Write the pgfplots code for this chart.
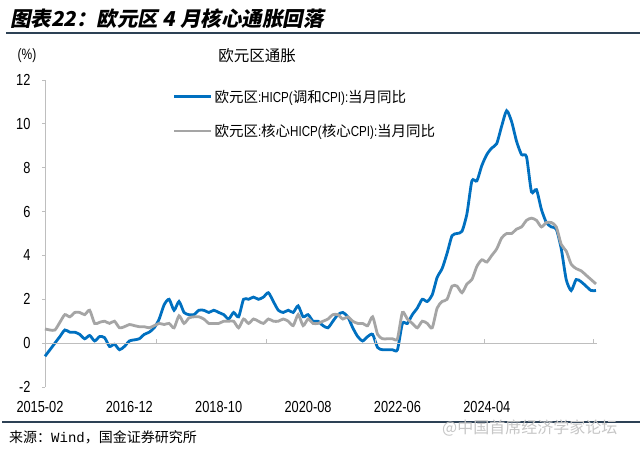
\documentclass[border=0pt]{standalone}
\usepackage{pgfplots}
\pgfplotsset{compat=1.18}
\usepackage{pgfplotstable}
\usepackage{fontspec}
\setmainfont{Liberation Sans}
\newfontfamily\cjk{Noto Sans CJK SC}
\newfontfamily\titlefont[FakeSlant=0.2]{Noto Sans CJK SC}
\newfontfamily\ticksf[FakeStretch=0.8]{Liberation Sans}
\newfontfamily\monof{Liberation Mono}
\definecolor{hblue}{RGB}{0,112,192}
\definecolor{hgray}{RGB}{165,165,165}
\definecolor{axgray}{RGB}{190,190,190}
\definecolor{rulec}{RGB}{45,65,85}
\pgfplotstableread{
i b g
0 -0.6 0.65
1 -0.3 0.6
2 0.0 0.6
3 0.3 0.95
4 0.6 1.3
5 0.5 1.2
6 0.5 1.4
7 0.4 1.4
8 0.2 1.3
9 0.35 1.5
10 0.1 0.9
11 0.3 0.95
12 0.25 1.0
13 -0.15 0.9
14 -0.05 1.0
15 -0.3 0.7
16 -0.15 0.75
17 0.1 0.85
18 0.15 0.8
19 0.2 0.75
20 0.4 0.75
21 0.5 0.7
22 0.7 0.8
23 1.1 0.9
24 1.75 0.85
25 2.0 0.9
26 1.5 0.7
27 1.9 1.25
28 1.4 0.9
29 1.3 1.15
30 1.3 1.2
31 1.5 1.2
32 1.5 1.1
33 1.4 0.9
34 1.5 0.9
35 1.4 0.9
36 1.3 1.0
37 1.1 1.0
38 1.4 1.0
39 1.2 0.7
40 2.0 1.1
41 2.0 0.9
42 2.1 1.1
43 2.0 1.0
44 2.1 0.9
45 2.3 1.1
46 1.9 1.0
47 1.5 1.0
48 1.4 1.1
49 1.5 1.0
50 1.4 0.8
51 1.7 1.3
52 1.2 0.8
53 1.3 1.1
54 1.0 0.9
55 1.0 0.9
56 0.8 1.0
57 0.7 1.1
58 1.0 1.3
59 1.3 1.3
60 1.4 1.1
61 1.2 1.2
62 0.7 1.0
63 0.3 0.9
64 0.1 0.9
65 0.3 0.8
66 0.4 1.2
67 -0.2 0.4
68 -0.3 0.2
69 -0.3 0.2
70 -0.3 0.2
71 -0.3 0.2
72 0.9 1.4
73 0.9 1.1
74 1.3 0.9
75 1.6 0.7
76 2.0 1.0
77 1.9 0.9
78 2.2 0.7
79 3.0 1.6
80 3.4 1.9
81 4.1 2.0
82 4.9 2.6
83 5.0 2.6
84 5.1 2.3
85 5.9 2.7
86 7.4 2.9
87 7.4 3.5
88 8.1 3.8
89 8.6 3.7
90 8.9 4.0
91 9.1 4.3
92 9.9 4.8
93 10.6 5.0
94 10.1 5.0
95 9.2 5.2
96 8.6 5.3
97 8.5 5.6
98 6.9 5.7
99 7.0 5.6
100 6.1 5.3
101 5.5 5.5
102 5.3 5.5
103 5.2 5.3
104 4.3 4.5
105 2.9 4.2
106 2.4 3.6
107 2.9 3.4
108 2.8 3.3
109 2.6 3.1
110 2.4 2.9
111 2.4 2.7
}\datatable
\begin{document}
\begin{tikzpicture}
\useasboundingbox (0pt,0pt) rectangle (640pt,-450pt);
\fill[white] (0pt,0pt) rectangle (640pt,-450pt);
% title and rules
\node[anchor=west,inner sep=0] at (10pt,-19pt) {\titlefont\bfseries\fontsize{20.5}{20.5}\selectfont 图表22：欧元区 4 月核心通胀回落};
\draw[rulec,line width=1.1pt] (6pt,-33pt) -- (640pt,-33pt);
\draw[rulec,line width=1.1pt] (2pt,-422pt) -- (640pt,-422pt);
\node[anchor=west,inner sep=0] at (9pt,-437pt) {\cjk\fontsize{14}{14}\selectfont 来源：{\monof Wind}，国金证券研究所};
\node[anchor=west,inner sep=0,text=gray!45] at (442pt,-428pt) {\cjk\fontsize{16}{16}\selectfont @中国首席经济学家论坛};
\node[inner sep=0] at (27pt,-56pt) {\ticksf\fontsize{15}{15}\selectfont (\%)};
\node[inner sep=0] at (257pt,-56pt) {\cjk\fontsize{15.5}{15.5}\selectfont 欧元区通胀};
\begin{axis}[
  at={(45pt,-387pt)}, anchor=south west,
  scale only axis, width=552pt, height=307pt,
  xmin=0, xmax=111.2, ymin=-2, ymax=12,
  axis y line*=left, axis x line*=bottom,
  x axis line style={draw=none},
  y axis line style={draw=axgray,line width=0.8pt},
  ytick={-2,0,2,4,6,8,10,12},
  xtick={0,18,36,54,72,90},
  xticklabels={2015-02,2016-12,2018-10,2020-08,2022-06,2024-04},
  x tick style={draw=none},
  y tick style={draw=axgray,line width=0.8pt},
  tick align=outside, major tick length=3pt,
  /pgf/number format/assume math mode=true,
  ticklabel style={font=\ticksf\fontsize{16}{16}\selectfont},
  xticklabel style={xshift=-5pt,yshift=-8pt},
  yticklabel style={xshift=-8pt},
  clip=false,
  legend style={draw=none,fill=none,at={(0.231,0.975)},anchor=north west,
    inner sep=0pt,row sep=16.5pt,font=\ticksf\fontsize{14.5}{14.5}\selectfont},
  legend cell align=left,
  legend image code/.code={\draw[#1] (0pt,0pt) -- (37pt,0pt);},
]
\addplot[hblue,line width=2.8pt,smooth,tension=0.4] table[x=i,y=b] {\datatable};
\addlegendentry{{\cjk 欧元区}:HICP({\cjk 调和}CPI):{\cjk 当月同比}}
\addplot[hgray,line width=2.8pt,smooth,tension=0.4] table[x=i,y=g] {\datatable};
\addlegendentry{{\cjk 欧元区}:{\cjk 核心}HICP({\cjk 核心}CPI):{\cjk 当月同比}}
\draw[axgray,line width=0.8pt] (axis cs:0,0) -- (axis cs:111.2,0);
\pgfplotsinvokeforeach{22.5,44.5,66.5,88.5,110.5}{\draw[axgray,line width=0.8pt] (axis cs:#1,0) -- ++(0pt,4pt);}
\end{axis}
\end{tikzpicture}
\end{document}
